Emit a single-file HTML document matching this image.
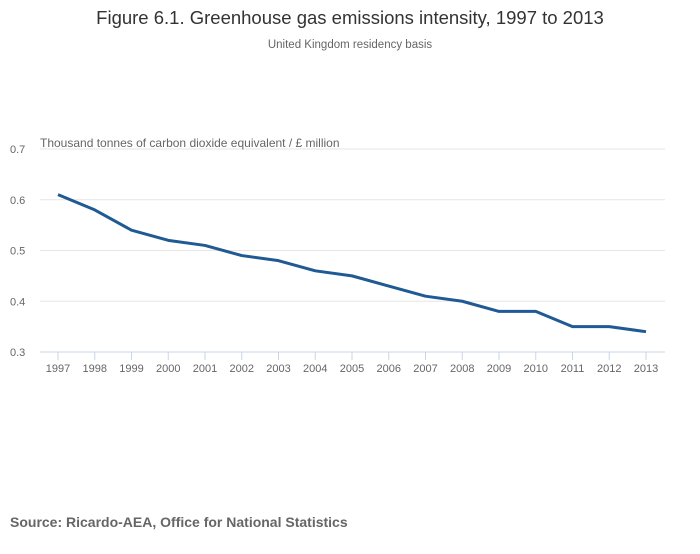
<!DOCTYPE html>
<html><head><meta charset="utf-8"><style>
body{margin:0;background:#fff;font-family:"Liberation Sans",sans-serif;}
</style></head><body>
<svg width="700" height="549" xmlns="http://www.w3.org/2000/svg">
<text x="350" y="24" text-anchor="middle" font-size="18.5" fill="#333">Figure 6.1. Greenhouse gas emissions intensity, 1997 to 2013</text>
<text x="350" y="48" text-anchor="middle" font-size="11.5" fill="#666">United Kingdom residency basis</text>
<g id="grid"></g><g id="xaxis"></g><g id="yaxis"></g>
<text x="40" y="147" font-size="12" fill="#666">Thousand tonnes of carbon dioxide equivalent / £ million</text>
<path id="line" fill="none" stroke="#1f5a94" stroke-width="3" stroke-linejoin="round"/>
<text x="10" y="527" font-size="14" font-weight="bold" fill="#666">Source: Ricardo-AEA, Office for National Statistics</text>
</svg>
<script>
const years=[1997,1998,1999,2000,2001,2002,2003,2004,2005,2006,2007,2008,2009,2010,2011,2012,2013];
const values=[0.61,0.58,0.54,0.52,0.51,0.49,0.48,0.46,0.45,0.43,0.41,0.40,0.38,0.38,0.35,0.35,0.34];
const yTicks=[0.3,0.4,0.5,0.6,0.7];
const NS="http://www.w3.org/2000/svg";
const x=i=>58+i*(646-58)/(years.length-1);
const y=v=>352-(v-0.3)*(352-149)/0.4;
const grid=document.getElementById('grid'),xa=document.getElementById('xaxis'),ya=document.getElementById('yaxis');
function mk(tag,attrs,parent){const e=document.createElementNS(NS,tag);for(const k in attrs)e.setAttribute(k,attrs[k]);parent.appendChild(e);return e;}
yTicks.forEach(t=>{
  const l=mk('line',{x1:40,x2:665,y1:y(t),y2:y(t),stroke:t===0.3?'#c6d6e8':'#e6e6e6','stroke-width':1},grid);
  
  
  const tx=mk('text',{x:10,y:y(t)+4,'font-size':11,fill:'#666'},ya);tx.textContent=t.toFixed(1);
  
  
});
years.forEach((yr,i)=>{
  const l=mk('line',{x1:x(i),x2:x(i),y1:352,y2:360,stroke:'#c6d6e8'},xa);
  
  
  const tx=mk('text',{x:x(i),y:372,'font-size':11,fill:'#666','text-anchor':'middle'},xa);tx.textContent=yr;
  
  
});
document.getElementById('line').setAttribute('d',values.map((v,i)=>(i?'L':'M')+x(i)+' '+y(v)).join(' '));
</script>
</body></html>
